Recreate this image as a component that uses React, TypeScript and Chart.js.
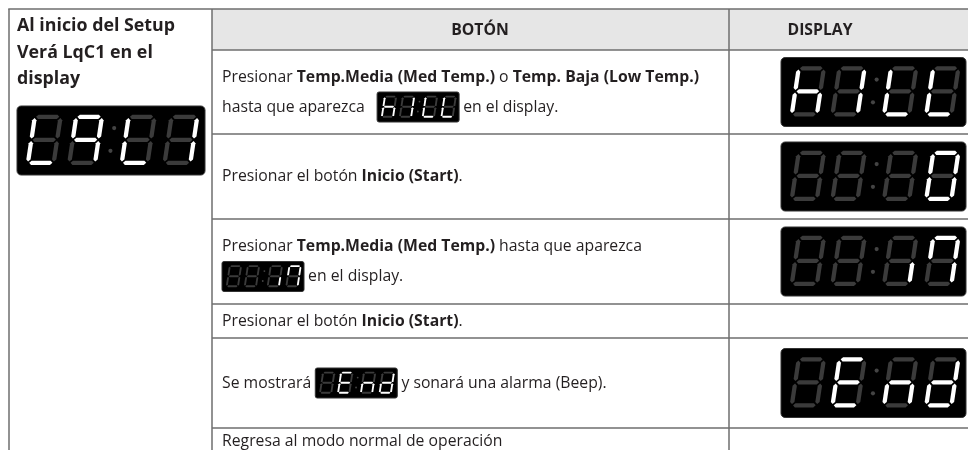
import React, { useEffect, useRef } from "react";
import { Chart, registerables } from "chart.js";
Chart.register(...registerables);

// ---------- content ----------
const leftHeaderLines = ["Al inicio del Setup", "Verá LqC1 en el", "display"];
const columnTitles = ["BOTÓN", "DISPLAY"];

// seven-segment glyphs: lit segments per digit (a..g)
const glyphLqC1 = ["def", "abcfg", "def", "bc"];
const glyphHiLL = ["cefg", "bc", "def", "def"];
const glyphZero = ["", "", "", "abcdef"];
const glyph17 = ["", "", "c", "abcf"];
const glyphEnd = ["", "adefg", "ceg", "bcdeg"];

type Run = { t?: string; b?: boolean; g?: string[] };
const step1: Run[][] = [
  [{ t: "Presionar " }, { t: "Temp.Media (Med Temp.)", b: true }, { t: " o " }, { t: "Temp. Baja (Low Temp.)", b: true }],
  [{ t: "hasta que aparezca " }, { t: "  " }, { g: glyphHiLL }, { t: " en el display." }],
];
const step2: Run[][] = [[{ t: "Presionar el botón " }, { t: "Inicio (Start)", b: true }, { t: "." }]];
const step3: Run[][] = [
  [{ t: "Presionar " }, { t: "Temp.Media (Med Temp.)", b: true }, { t: " hasta que aparezca" }],
  [{ g: glyph17 }, { t: " en el display." }],
];
const step4: Run[][] = [[{ t: "Presionar el botón " }, { t: "Inicio (Start)", b: true }, { t: "." }]];
const step5: Run[][] = [[{ t: "Se mostrará " }, { g: glyphEnd }, { t: " y sonará una alarma (Beep)." }]];
const step6: Run[][] = [[{ t: "Regresa al modo normal de operación" }]];
const steps = [step1, step2, step3, step4, step5, step6];
const stepDisplays: (string[] | null)[] = [glyphHiLL, glyphZero, glyph17, null, glyphEnd, null];

// ---------- layout ----------
const FONT = "'Open Sans', 'Noto Sans', sans-serif";
const FONT_SIZE = 16.5;
const HEAD_SIZE = 18;
const TABLE = { left: 9, col1: 212, col2: 729, right: 968, top: 9, head: 50 };
const rowBottoms = [134, 219, 304, 338, 428, 454];
const TEXT_X = 222;
const LINE_GAP = 30;
const BIG = { x: 781, w: 185, h: 69 };
const LEFT_DISP = { x: 17, y: 106, w: 188, h: 69 };
const INLINE = { w: 82, h: 30 };
const FIT_TARGET = 477; // width of first step line
const HEAD_FIT = 158; // width of first left header line

const DIGIT_OFF = [0.045, 0.265, 0.544, 0.772];

function drawDigit(ctx: CanvasRenderingContext2D, x0: number, y0: number, dw: number, dh: number, segs: string, slant: number) {
  const sk = slant * dh;
  const w = dw - sk;
  const t = dh * 0.085;
  const g = dh * 0.025;
  const L = t / 2, R = w - t / 2, T = t / 2, M = dh / 2, B = dh - t / 2;
  const horiz = (y: number, x1: number, x2: number) => [[x1, y], [x1 + t / 2, y - t / 2], [x2 - t / 2, y - t / 2], [x2, y], [x2 - t / 2, y + t / 2], [x1 + t / 2, y + t / 2]];
  const vert = (x: number, y1: number, y2: number) => [[x, y1], [x + t / 2, y1 + t / 2], [x + t / 2, y2 - t / 2], [x, y2], [x - t / 2, y2 - t / 2], [x - t / 2, y1 + t / 2]];
  const shapes: Record<string, number[][]> = {
    a: horiz(T, L + g, R - g),
    g: horiz(M, L + g, R - g),
    d: horiz(B, L + g, R - g),
    f: vert(L, T + g, M - g),
    b: vert(R, T + g, M - g),
    e: vert(L, M + g, B - g),
    c: vert(R, M + g, B - g),
  };
  for (const k of "abcdefg") {
    ctx.beginPath();
    shapes[k].forEach(([x, y], i) => {
      const px = x0 + x + (dh - y) * slant;
      const py = y0 + y;
      if (i === 0) ctx.moveTo(px, py);
      else ctx.lineTo(px, py);
    });
    ctx.closePath();
    ctx.fillStyle = segs.includes(k) ? "#ffffff" : "#3b3b3b";
    ctx.fill();
  }
}

function drawDisplay(ctx: CanvasRenderingContext2D, x: number, y: number, w: number, h: number, glyph: string[]) {
  ctx.beginPath();
  (ctx as any).roundRect(x, y, w, h, Math.max(2, h * 0.06));
  ctx.fillStyle = "#000";
  ctx.fill();
  ctx.strokeStyle = "#333";
  ctx.lineWidth = 1;
  ctx.stroke();
  const dh = h * 0.73;
  const dy = y + h * 0.125;
  const dw = w * 0.2;
  glyph.forEach((s, i) => drawDigit(ctx, x + DIGIT_OFF[i] * w, dy, dw, dh, s, 0.15));
  ctx.fillStyle = "#444";
  const r = Math.max(0.8, h * 0.03);
  ctx.beginPath();
  ctx.arc(x + 0.517 * w, y + 0.32 * h, r, 0, Math.PI * 2);
  ctx.fill();
  ctx.beginPath();
  ctx.arc(x + 0.497 * w, y + 0.65 * h, r, 0, Math.PI * 2);
  ctx.fill();
}

function runsWidth(ctx: CanvasRenderingContext2D, runs: Run[], size: number) {
  let w = 0;
  for (const r of runs) {
    if (r.g) { w += INLINE.w; continue; }
    ctx.font = `${r.b ? "bold " : ""}${size}px ${FONT}`;
    w += ctx.measureText(r.t || "").width;
  }
  return w;
}

function drawText(ctx: CanvasRenderingContext2D, text: string, x: number, cy: number, sx: number, align: "left" | "center" = "left") {
  const w = ctx.measureText(text).width * sx;
  const x0 = align === "center" ? x - w / 2 : x;
  ctx.save();
  ctx.translate(x0, cy);
  ctx.scale(sx, 1);
  ctx.textAlign = "left";
  ctx.textBaseline = "middle";
  ctx.fillText(text, 0, 0);
  ctx.restore();
  return w;
}

function drawRuns(ctx: CanvasRenderingContext2D, x: number, cy: number, runs: Run[], size: number, sx: number) {
  let cx = x;
  for (const r of runs) {
    if (r.g) {
      drawDisplay(ctx, cx, cy - INLINE.h / 2, INLINE.w, INLINE.h, r.g);
      cx += INLINE.w;
      continue;
    }
    ctx.font = `${r.b ? "bold " : ""}${size}px ${FONT}`;
    ctx.fillStyle = "#231f20";
    cx += drawText(ctx, r.t || "", cx, cy, sx);
  }
}

const tablePlugin = {
  id: "tablePlugin",
  afterDraw(chart: any) {
    const ctx: CanvasRenderingContext2D = chart.ctx;
    const xs = chart.scales.x;
    const ys = chart.scales.y;
    const X = (v: number) => xs.getPixelForValue(v);
    const Y = (v: number) => ys.getPixelForValue(v);
    ctx.save();
    ctx.fillStyle = "#ffffff";
    ctx.fillRect(X(0), Y(0), X(968) - X(0), Y(450) - Y(0));

    // header background
    ctx.fillStyle = "#e6e6e6";
    ctx.fillRect(X(TABLE.col1), Y(TABLE.top), X(TABLE.right) - X(TABLE.col1), Y(TABLE.head) - Y(TABLE.top));

    // horizontal compression so the humanist font matches the narrow original
    const size = FONT_SIZE;
    const sx = FIT_TARGET / runsWidth(ctx, step1[0], size);
    ctx.font = `bold ${HEAD_SIZE}px ${FONT}`;
    const sxHead = HEAD_FIT / ctx.measureText(leftHeaderLines[0]).width;

    // grid lines
    ctx.strokeStyle = "#6e6e6e";
    ctx.lineWidth = 1.5;
    const hline = (y: number, x1: number, x2: number) => { ctx.beginPath(); ctx.moveTo(X(x1), Y(y)); ctx.lineTo(X(x2), Y(y)); ctx.stroke(); };
    const vline = (x: number, y1: number, y2: number) => { ctx.beginPath(); ctx.moveTo(X(x), Y(y1)); ctx.lineTo(X(x), Y(y2)); ctx.stroke(); };
    hline(TABLE.top, TABLE.left - 0.75, TABLE.right);
    hline(TABLE.head, TABLE.col1, TABLE.right);
    rowBottoms.forEach((b) => hline(b, TABLE.col1, TABLE.right));
    vline(TABLE.left, TABLE.top, 450);
    vline(TABLE.col1, TABLE.top, 450);
    vline(TABLE.col2, TABLE.top, 450);

    // headers
    ctx.fillStyle = "#231f20";
    ctx.font = `bold ${HEAD_SIZE}px ${FONT}`;
    leftHeaderLines.forEach((l, i) => drawText(ctx, l, X(17), Y(26 + i * 26.5), sxHead));
    ctx.font = `bold ${size}px ${FONT}`;
    drawText(ctx, columnTitles[0], X(480), Y(30), sx, "center");
    drawText(ctx, columnTitles[1], X(820), Y(30), sx, "center");

    drawDisplay(ctx, X(LEFT_DISP.x), Y(LEFT_DISP.y), LEFT_DISP.w, LEFT_DISP.h, glyphLqC1);

    // rows
    let top = TABLE.head;
    steps.forEach((lines, i) => {
      const bottom = rowBottoms[i];
      const mid = (top + bottom) / 2;
      const n = lines.length;
      lines.forEach((runs, j) => {
        const cy = mid + (j - (n - 1) / 2) * LINE_GAP;
        drawRuns(ctx, X(TEXT_X), Y(cy), runs, size, sx);
      });
      const g = stepDisplays[i];
      if (g) drawDisplay(ctx, X(BIG.x), Y(mid - BIG.h / 2), BIG.w, BIG.h, g);
      top = bottom;
    });
    ctx.restore();
  },
};

export default function App() {
  const ref = useRef<HTMLCanvasElement | null>(null);
  useEffect(() => {
    if (!ref.current) return;
    const chart = new Chart(ref.current, {
      type: "scatter",
      data: { datasets: [] },
      options: {
        animation: false,
        responsive: false,
        devicePixelRatio: 1,
        layout: { padding: 0 },
        plugins: { legend: { display: false }, tooltip: { enabled: false } },
        scales: {
          x: { type: "linear", min: 0, max: 968, display: false },
          y: { type: "linear", min: 0, max: 450, reverse: true, display: false },
        },
      },
      plugins: [tablePlugin],
    });
    return () => chart.destroy();
  }, []);
  return (
    <div style={{ position: "fixed", left: 0, top: 0, width: 968, height: 450, background: "#fff" }}>
      <canvas ref={ref} width={968} height={450} style={{ display: "block" }} />
    </div>
  );
}
